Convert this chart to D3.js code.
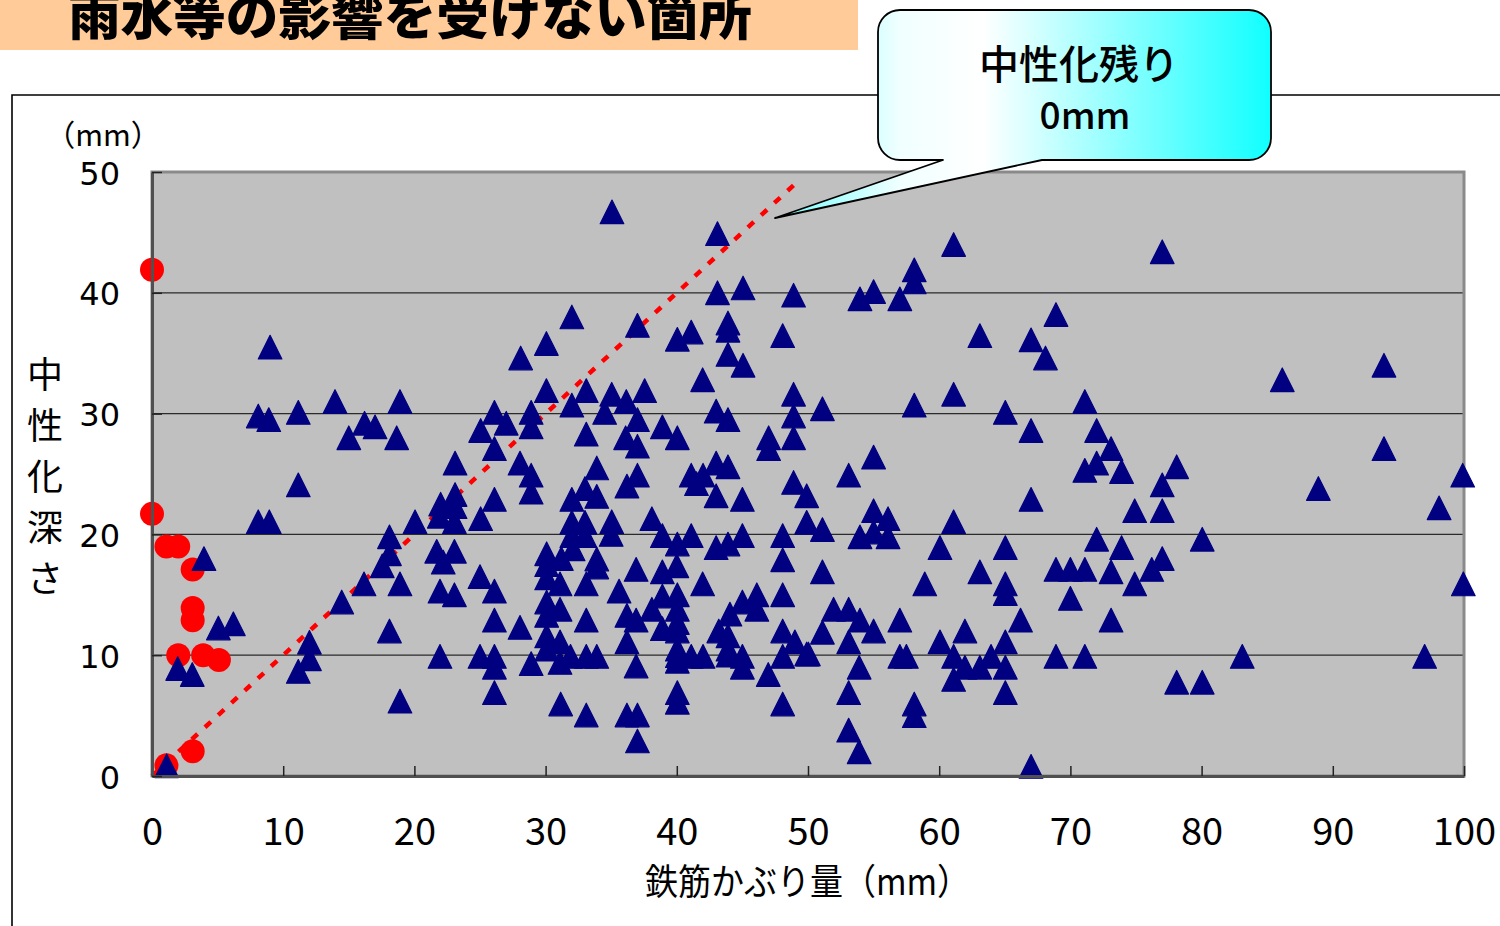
<!DOCTYPE html>
<html>
<head>
<meta charset="utf-8">
<script src="https://cdn.jsdelivr.net/npm/d3@7"></script>
<style>
  html, body { margin: 0; padding: 0; background: #fff; }
  svg { display: block; }
</style>
</head>
<body>
<svg id="chart" width="1500" height="926"></svg>
<script>
// ---- data ----------------------------------------------------------------
const titleText = "雨水等の影響を受けない箇所";
const calloutLines = ["中性化残り", "0mm"];
const xTicks = [0, 10, 20, 30, 40, 50, 60, 70, 80, 90, 100];
const yTicks = [0, 10, 20, 30, 40, 50];
const xTitle = "鉄筋かぶり量（mm）";
const yTitle = "中性化深さ";
const yUnit = "（mm）";

// reference line: carbonation depth equal to cover (remaining 0mm)
const limitCover = [0, 49.3];
const limitDepth = [0, 49.3];

// red circles: [cover (mm), carbonation depth (mm)]
const redPoints = [
  [0, 41.9], [0, 21.7], [1.1, 19.0], [2.0, 19.0], [3.1, 17.1], [3.1, 13.9],
  [3.1, 12.9], [2.0, 10.0], [3.9, 10.0], [5.1, 9.6], [3.1, 2.05], [1.1, 0.9]
];

// blue triangles: [cover (mm), carbonation depth (mm)]
const bluePoints = [
  [9.0,35.5],[8.1,29.8],[8.9,29.5],[11.15,30.1],[13.95,31.0],[18.9,31.0],[15.0,28.0],[16.2,29.2],[17.0,28.9],[18.65,28.0],[23.1,25.9],
  [35.06,46.7],[43.1,44.9],[43.1,40.0],[45.05,40.4],[48.9,39.8],[32.0,38.0],[30.06,35.8],[28.1,34.6],[37.0,37.3],[40.04,36.15],[41.1,36.75],
  [43.9,37.5],[43.9,36.9],[43.9,34.9],[45.05,34.0],[48.07,36.45],[41.97,32.8],[30.06,31.9],[33.1,31.9],[35.04,31.6],[36.15,31.0],[37.55,31.9],
  [32.0,30.7],[34.5,30.1],[37.0,29.5],[38.9,28.9],[40.04,28.0],[36.1,28.0],[37.0,27.3],[33.1,28.3],[26.1,30.1],[27.0,29.2],[25.05,28.6],
  [28.9,30.1],[28.9,28.9],[26.1,27.1],[28.05,25.9],[28.9,24.9],[33.9,25.5],[37.0,24.9],[43.0,30.2],[43.9,29.5],
  [48.9,31.6],[48.9,29.8],[48.9,28.0],[47.0,28.0],[47.0,27.1],[41.1,24.9],[42.0,24.9],[43.0,25.9],[43.9,25.6],[48.9,24.3],
  [61.1,44.0],[58.1,41.9],[58.1,40.9],[55.0,40.1],[53.96,39.5],[57.0,39.5],[68.9,38.2],[63.1,36.45],[67.0,36.1],[68.1,34.6],[61.1,31.6],
  [58.1,30.7],[51.1,30.4],[65.04,30.1],[67.0,28.6],[71.1,31.0],[72.0,28.6],[73.1,27.1],[55.0,26.4],[53.1,24.9],[72.0,25.9],[71.1,25.3],[73.9,25.2],
  [77.0,43.4],[86.15,32.8],[93.9,34.0],[93.9,27.1],[78.1,25.6],[77.0,24.1],[99.9,24.9],
  [11.15,24.1],[8.1,21.05],[8.94,21.05],[3.96,18.0],[5.06,12.25],[6.2,12.6],[1.96,8.9],[3.07,8.4],[1.12,0.85],[12.0,11.07],[12.0,9.7],
  [11.15,8.66],[14.46,14.4],[16.16,15.9],[18.1,19.8],[18.1,18.4],[17.55,17.4],[18.9,15.9],[18.1,12.0],[18.9,6.2],[20.05,21.05],[21.95,9.9],
  [21.7,18.6],[23.05,18.6],[22.2,17.7],[21.95,15.3],[23.05,15.0],[21.9,21.5],[23.05,21.05],[23.1,23.3],[22.0,22.5],[23.1,22.3],
  [28.9,23.5],[26.1,22.9],[25.05,21.3],[33.0,23.8],[33.9,23.15],[32.0,22.9],[36.2,24.0],[41.5,24.2],[43.0,23.2],[45.0,22.9],[49.9,23.2],[49.9,21.0],
  [32.0,21.0],[33.0,21.0],[35.04,21.05],[32.0,19.9],[33.0,19.9],[35.0,20.0],[38.1,21.3],[38.9,19.9],[40.04,19.2],[41.1,19.9],[43.0,18.9],
  [43.9,19.2],[45.0,19.9],[48.07,19.9],[48.07,17.9],
  [30.08,18.4],[31.2,18.0],[30.08,17.5],[32.1,18.8],[33.9,17.96],[33.9,17.3],[40.0,17.4],[38.9,16.9],[36.9,17.1],
  [25.0,16.5],[26.1,15.3],[30.08,16.4],[31.1,15.9],[33.1,15.9],[35.6,15.3],[41.97,15.9],[38.9,14.9],[40.04,15.0],[30.08,14.4],[31.1,13.8],
  [30.08,13.3],[36.2,13.3],[38.1,13.8],[36.9,12.9],[40.04,13.8],[40.04,12.7],[45.0,14.4],[46.1,15.0],[44.05,13.4],[46.1,13.8],[48.07,15.0],
  [28.05,12.3],[26.1,12.9],[33.1,12.9],
  [30.08,11.6],[30.08,10.5],[31.1,11.1],[36.2,11.1],[38.9,12.2],[40.04,12.0],[40.04,10.5],[43.2,12.0],[43.9,11.6],[43.9,10.5],[48.07,12.0],[49.0,11.1],
  [25.0,9.9],[26.1,9.9],[26.1,9.0],[28.9,9.3],[31.9,9.9],[33.1,9.9],[33.9,9.9],[31.1,9.4],[36.9,9.1],[40.04,9.96],[40.04,9.5],[41.1,9.9],
  [42.0,9.9],[43.9,10.0],[45.0,9.9],[45.0,9.0],[48.07,9.9],[46.97,8.4],[49.9,10.1],
  [26.1,6.9],[31.15,5.96],[33.1,5.05],[36.2,5.05],[37.0,5.05],[37.0,2.9],[40.04,6.9],[40.04,6.1],[48.07,5.96],
  [67.0,22.9],[74.9,21.96],[55.0,21.96],[56.1,21.3],[51.1,20.4],[53.96,19.8],[55.0,20.2],[56.1,19.8],[61.1,21.05],[60.06,18.9],[65.04,18.9],
  [72.0,19.6],[73.9,18.9],[51.1,16.9],[63.1,16.9],[65.04,15.9],[65.04,15.1],[58.9,15.9],[68.9,17.1],[70.0,17.1],[71.1,17.1],[73.1,16.9],
  [74.9,15.9],[70.0,14.7],[51.95,13.8],[53.1,13.8],[53.96,12.9],[55.0,12.0],[51.1,11.9],[53.1,11.1],[57.0,12.9],[66.2,12.9],[73.1,12.9],
  [61.96,12.0],[60.06,11.1],[65.04,11.1],[50.03,10.1],[57.0,9.9],[57.5,9.9],[61.1,9.9],[61.96,9.0],[61.1,8.0],[63.95,9.9],[63.1,9.0],
  [65.04,9.0],[68.9,9.9],[71.1,9.9],[53.9,9.0],[53.1,6.9],[65.04,6.9],[58.1,5.96],[58.1,5.0],[53.1,3.8],[53.9,2.0],[67.0,0.8],
  [88.9,23.8],[98.1,22.2],[77.0,21.96],[80.05,19.6],[77.0,18.0],[76.2,17.1],[99.95,15.9],[83.1,9.9],[97.0,9.9],[78.1,7.76],[80.05,7.76]
];

// ---- layout --------------------------------------------------------------
const svg = d3.select("#chart");
const plot = { left: 152, right: 1464, top: 172, bottom: 776 };

const x = d3.scaleLinear().domain([0, 100]).range([plot.left, plot.right]);
const y = d3.scaleLinear().domain([0, 50]).range([plot.bottom, plot.top]);

// title banner (text runs past the top edge of the page)
svg.append("rect")
  .attr("x", 0).attr("y", 0).attr("width", 858).attr("height", 50)
  .attr("fill", "#FFCC99");
svg.append("text")
  .attr("x", 68).attr("y", 35)
  .attr("font-family", "'Noto Sans CJK JP', sans-serif")
  .attr("font-weight", 900)
  .attr("font-size", 52)
  .attr("textLength", 684)
  .attr("lengthAdjust", "spacingAndGlyphs")
  .attr("fill", "#000")
  .text(titleText);

// outer chart frame
svg.append("path")
  .attr("d", "M12,926 L12,95 L1500,95")
  .attr("fill", "none")
  .attr("stroke", "#000")
  .attr("stroke-width", 1.6);

// plot background
svg.append("rect")
  .attr("x", plot.left).attr("y", plot.top)
  .attr("width", plot.right - plot.left).attr("height", plot.bottom - plot.top)
  .attr("fill", "#C0C0C0");

// horizontal gridlines
svg.append("g")
  .selectAll("line")
  .data(yTicks.filter(v => v > 0 && v < 50))
  .join("line")
  .attr("x1", plot.left).attr("x2", plot.right)
  .attr("y1", d => y(d)).attr("y2", d => y(d))
  .attr("stroke", "#2a2a2a")
  .attr("stroke-width", 1.3);

// plot border
svg.append("rect")
  .attr("x", plot.left).attr("y", plot.top)
  .attr("width", plot.right - plot.left).attr("height", plot.bottom - plot.top)
  .attr("fill", "none")
  .attr("stroke", "#8a8a8a")
  .attr("stroke-width", 3);

// dotted limit line (depth = cover)
svg.append("path")
  .datum(d3.zip(limitCover, limitDepth))
  .attr("d", d3.line().x(d => x(d[0])).y(d => y(d[1])))
  .attr("fill", "none")
  .attr("stroke", "#FF0000")
  .attr("stroke-width", 4.5)
  .attr("stroke-dasharray", "8,10");

// red circles
svg.append("g")
  .selectAll("circle")
  .data(redPoints)
  .join("circle")
  .attr("cx", d => x(d[0]))
  .attr("cy", d => y(d[1]))
  .attr("r", 12)
  .attr("fill", "#FF0000");

// blue triangles (isosceles, as tall as wide)
const triHalf = 11.8;
const triPath = `M0,${-triHalf}L${triHalf},${triHalf}L${-triHalf},${triHalf}Z`;
svg.append("g")
  .selectAll("path")
  .data(bluePoints)
  .join("path")
  .attr("d", triPath)
  .attr("transform", d => `translate(${x(d[0])},${y(d[1])})`)
  .attr("fill", "#000080")
  .attr("stroke", "#000080")
  .attr("stroke-width", 1.2)
  .attr("stroke-linejoin", "round");

// x axis
const xAxis = svg.append("g")
  .attr("transform", `translate(0,${plot.bottom})`)
  .call(d3.axisBottom(x).tickValues(xTicks).tickSizeInner(-10).tickSizeOuter(0).tickPadding(42));
xAxis.select(".domain").attr("stroke", "#505050").attr("stroke-width", 3);
xAxis.selectAll(".tick line").attr("stroke", "#222").attr("stroke-width", 1.5);
xAxis.selectAll(".tick text")
  .attr("font-family", "'Liberation Sans Narrow', 'Arial Narrow', 'Noto Sans CJK JP', sans-serif")
  .attr("font-size", 38)
  .attr("fill", "#000");

// y axis
const yAxis = svg.append("g")
  .attr("transform", `translate(${plot.left},0)`)
  .call(d3.axisLeft(y).tickValues(yTicks).tickSizeInner(-10).tickSizeOuter(0).tickPadding(32));
yAxis.select(".domain").attr("stroke", "#505050").attr("stroke-width", 3);
yAxis.selectAll(".tick line").attr("stroke", "#222").attr("stroke-width", 1.5);
yAxis.selectAll(".tick text")
  .attr("font-family", "'DejaVu Sans', sans-serif")
  .attr("font-size", 32)
  .attr("dy", "0.38em")
  .attr("fill", "#000");

// unit label above y axis
svg.append("text")
  .attr("x", 103).attr("y", 146)
  .attr("text-anchor", "middle")
  .attr("font-family", "'Noto Sans CJK JP', sans-serif")
  .attr("font-size", 30)
  .attr("fill", "#000")
  .text(yUnit);

// vertical y-axis title, one character per row
svg.append("g")
  .selectAll("text")
  .data(Array.from(yTitle))
  .join("text")
  .attr("x", 45)
  .attr("y", (d, i) => 388 + i * 51)
  .attr("text-anchor", "middle")
  .attr("font-family", "'Noto Sans CJK JP', sans-serif")
  .attr("font-size", 36)
  .attr("fill", "#000")
  .text(d => d);

// x-axis title
svg.append("text")
  .attr("x", 645).attr("y", 895)
  .attr("font-family", "'Noto Sans CJK JP', sans-serif")
  .attr("font-size", 36)
  .attr("textLength", 325)
  .attr("lengthAdjust", "spacingAndGlyphs")
  .attr("fill", "#000")
  .text(xTitle);

// callout bubble
const defs = svg.append("defs");
const grad = defs.append("linearGradient")
  .attr("id", "calloutFill")
  .attr("x1", "0%").attr("x2", "100%").attr("y1", "0%").attr("y2", "0%");
grad.append("stop").attr("offset", "0%").attr("stop-color", "#70FFFF");
grad.append("stop").attr("offset", "25%").attr("stop-color", "#F0FFFF");
grad.append("stop").attr("offset", "42%").attr("stop-color", "#FFFFFF");
grad.append("stop").attr("offset", "100%").attr("stop-color", "#10FFFF");

const bx = 878, by = 10, bw = 393, bh = 150, br = 22;
const tail = { a: 943, b: 1042, tipX: 775, tipY: 218 };
const bubble = d3.path();
bubble.moveTo(bx + br, by);
bubble.lineTo(bx + bw - br, by);
bubble.arcTo(bx + bw, by, bx + bw, by + br, br);
bubble.lineTo(bx + bw, by + bh - br);
bubble.arcTo(bx + bw, by + bh, bx + bw - br, by + bh, br);
bubble.lineTo(tail.b, by + bh);
bubble.lineTo(tail.tipX, tail.tipY);
bubble.lineTo(tail.a, by + bh);
bubble.lineTo(bx + br, by + bh);
bubble.arcTo(bx, by + bh, bx, by + bh - br, br);
bubble.lineTo(bx, by + br);
bubble.arcTo(bx, by, bx + br, by, br);
bubble.closePath();

svg.append("path")
  .attr("d", bubble.toString())
  .attr("fill", "url(#calloutFill)")
  .attr("stroke", "#000")
  .attr("stroke-width", 1.8)
  .attr("stroke-linejoin", "round");

svg.append("text")
  .attr("x", 1079).attr("y", 79)
  .attr("text-anchor", "middle")
  .attr("font-family", "'Noto Sans CJK JP', sans-serif")
  .attr("font-weight", 500)
  .attr("font-size", 40)
  .attr("fill", "#000")
  .text(calloutLines[0]);
svg.append("text")
  .attr("x", 1085).attr("y", 129)
  .attr("text-anchor", "middle")
  .attr("font-family", "'Noto Sans CJK JP', sans-serif")
  .attr("font-weight", 500)
  .attr("font-size", 37)
  .attr("fill", "#000")
  .text(calloutLines[1]);
</script>
</body>
</html>
